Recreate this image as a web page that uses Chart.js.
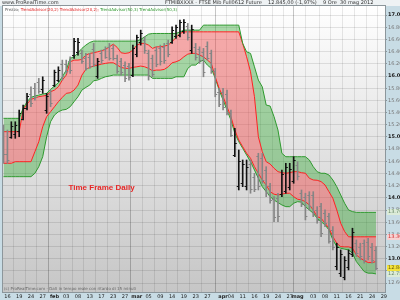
<!DOCTYPE html>
<html>
<head>
<meta charset="utf-8">
<script src="https://cdn.jsdelivr.net/npm/chart.js@4.4.1/dist/chart.umd.min.js"></script>
<style>
  html, body { margin: 0; padding: 0; background: #c8dce5; }
  canvas { display: block; }
</style>
</head>
<body>
<canvas id="myChart" width="400" height="300"></canvas>
<script>
// FTSE MIB future, daily bars 16 gen - 30 mag 2012, with the two TrendAdvisor bands

var highs = [15196,15114,15250,15250,15442,15524,15716,15824,15880,15962,
  15988,15716,15770,16098,16152,16262,16262,16316,16618,16618,
  16426,16372,16372,16536,16290,16426,16480,16536,16508,16344,
  16290,16234,16208,16508,16672,16754,16644,16426,16344,16480,
  16508,16536,16590,16808,16836,16918,16929,16864,16836,16536,
  16480,16454,16562,16426,16126,15798,15798,15770,15442,15142,
  14786,14622,14622,14622,14404,14732,14732,14512,14240,14020,
  14076,14458,14568,14568,14676,14594,14130,14076,14102,14102,
  13856,13912,13802,13748,13528,13256,13146,13036,13146,13502,
  13310,13256,13310,13338,13256,13200];

var lows = [14568,14568,14978,14978,15004,15278,15442,15496,15606,15716,
  15716,15388,15496,15824,15906,15934,16044,16044,16290,16344,
  16208,16098,16126,16152,15962,16208,16290,16262,16262,16044,
  16016,15906,15934,15988,16316,16508,16372,15934,15988,16152,
  16180,16208,16316,16536,16618,16644,16700,16590,16372,16262,
  16208,15988,16262,16044,15660,15496,15442,15360,15004,14676,
  14130,14184,14130,14076,14102,14130,14240,14020,13912,13610,
  13610,14020,14076,14130,14240,14294,13856,13638,13802,13692,
  13584,13364,13528,13256,13146,12818,12708,12654,12818,13036,
  13036,12982,12928,12982,12928,12820];

var opens = [15100,14720,15000,15050,15100,15300,15480,15700,15800,15900,
  15780,15450,15700,15860,15940,16200,16200,16250,16340,16400,
  16380,16300,16320,16450,16000,16380,16440,16480,16460,16300,
  16240,16180,16160,16020,16360,16560,16600,16380,16300,16420,
  16460,16480,16540,16560,16660,16680,16740,16820,16420,16480,
  16440,16400,16500,16380,16080,15740,15740,15700,15400,14700,
  14200,14250,14200,14560,14350,14680,14650,14460,14200,13980,
  14000,14060,14120,14180,14280,14540,14080,14020,14040,14040,
  13800,13860,13760,13700,13480,12880,12760,12700,12860,13080,
  13260,13200,13260,13280,13200,13150];

var closes = [14720,14620,15180,15200,15400,15480,15680,15560,15660,15760,
  15940,15680,15560,16060,16100,16000,16080,16100,16580,16560,
  16240,16140,16160,16200,16250,16260,16320,16300,16300,16080,
  16060,15960,15980,16460,16640,16700,16420,16000,16040,16200,
  16240,16260,16360,16760,16800,16880,16880,16640,16780,16320,
  16260,16060,16300,16100,15700,15540,15500,15400,15040,14900,
  14600,14560,14500,14150,14150,14200,14300,14080,13960,13680,
  13700,14400,14500,14480,14620,14360,13900,13700,13860,13760,
  13640,13420,13580,13300,13200,13200,13080,12980,13100,13440,
  13100,13040,12980,13040,12980,12848];

// bands
var greenUpper = [15306,15306,15306,15306,15306,15470,15579,15650,15672,15688,
  15704,15716,15781,15836,15890,15988,16098,16290,16316,16382,
  16454,16508,16552,16574,16574,16574,16574,16574,16574,16574,
  16574,16574,16574,16574,16574,16601,16644,16688,16699,16699,
  16699,16699,16699,16699,16699,16726,16754,16754,16754,16754,
  16754,16836,16836,16836,16836,16836,16836,16836,16836,16836,
  16836,16536,16398,16372,16152,15934,15824,15524,15508,15333,
  15114,14732,14676,14676,14676,14676,14676,14676,14622,14512,
  14430,14404,14404,14376,14294,14184,14048,13912,13802,13775,
  13762,13762,13762,13762,13762,13762];

var redUpper = [15087,15087,15087,15087,15087,15442,15540,15617,15639,15661,
  15672,15683,15742,15770,15824,15934,16016,16234,16262,16262,
  16273,16344,16372,16382,16398,16415,16437,16480,16524,16470,
  16382,16372,16382,16426,16508,16536,16536,16508,16454,16480,
  16480,16492,16508,16562,16634,16699,16726,16726,16726,16726,
  16726,16726,16726,16726,16726,16726,16726,16726,16726,16726,
  16726,16536,16316,16070,15661,15004,14758,14594,14556,14486,
  14430,14414,14404,14414,14430,14430,14414,14404,14322,14294,
  14289,14267,14212,14102,13994,13802,13584,13447,13361,13361,
  13361,13361,13361,13361,13361,13361];

var redLower = [14568,14568,14568,14594,14594,14594,14594,14594,14758,14922,
  15168,15333,15414,15496,15579,15650,15716,15726,15770,15852,
  16016,16109,16142,16164,16180,16196,16208,16218,16218,16180,
  16142,16126,16126,16142,16152,16164,16152,16126,16087,16098,
  16098,16109,16152,16218,16234,16262,16316,16360,16372,16372,
  16344,16316,16262,16208,15988,15798,15661,15496,15333,15114,
  14950,14840,14732,14650,14512,14404,14294,14212,14102,14060,
  14048,14060,14076,14076,14020,13978,13966,13938,13884,13802,
  13692,13666,13584,13502,13364,13256,13200,13196,13196,13174,
  13064,13010,12970,12938,12938,12954];

var greenLower = [14348,14348,14348,14348,14348,14348,14348,14348,14404,14512,
  14676,15004,15250,15360,15414,15442,15453,15496,15579,15661,
  15770,15814,15852,15923,15934,15962,15988,16000,16016,16016,
  16016,16016,16016,16016,16016,16016,16016,16016,15962,15962,
  15962,15962,15962,15962,15988,15988,15988,16126,16180,16180,
  16234,16262,16180,16126,15962,15770,15606,15442,15278,15060,
  14922,14814,14704,14594,14458,14322,14184,14102,14020,13966,
  13922,13884,13856,13856,13912,13938,13930,13856,13802,13748,
  13666,13610,13556,13474,13310,13200,13174,13158,13146,13092,
  12954,12872,12790,12764,12764,12752];

// x axis: bar index of each labelled day
var tickIdx = [1,4,7,10,13,16,19,22,25,28,31,34,37,40,43,46,49,52,56,58,61,64,67,70,73,75,79,82,85,88,91,94,97];
var tickLabels = ['16','19','24','27','feb','03','08','13','17','23','27','mar','05','09','14','19','23','27',
  'apr','04','11','16','19','24','27','mag','03','08','11','16','21','24','29'];
var monthNames = ['feb','mar','apr','mag'];

function pts(arr) {
  return arr.map(function (v, i) { return {x: i, y: v}; });
}
function fmt(v) {
  return String(Math.round(v)).replace(/\B(?=(\d{3})+(?!\d))/g, '.');
}
function isUp(i) { return closes[i] >= opens[i]; }

var GREEN_FILL = 'rgba(45,165,45,0.4)';
var RED_FILL = 'rgba(240,70,70,0.45)';

// background: blue frame, gradient plot area
var bgPlugin = {
  id: 'bgPlugin',
  beforeDraw: function (chart) {
    var c = chart.ctx, a = chart.chartArea;
    c.save();
    c.fillStyle = '#c8dce5';
    c.fillRect(0, 0, chart.width, chart.height);
    c.fillStyle = '#eef2f4';
    c.fillRect(0, 0, chart.width, a.top);
    var g = c.createLinearGradient(0, a.top, 0, a.bottom);
    g.addColorStop(0, '#ffffff');
    g.addColorStop(1, '#c6c6c6');
    c.fillStyle = g;
    c.fillRect(a.left, a.top, a.right - a.left, a.bottom - a.top);
    c.restore();
  },
  afterDraw: function (chart) {
    var c = chart.ctx, a = chart.chartArea;
    c.save();
    c.strokeStyle = '#8c969b';
    c.lineWidth = 1;
    c.strokeRect(a.left - 0.5, a.top - 0.5, a.right - a.left + 1, a.bottom - a.top + 1);
    c.restore();
  }
};

// open / close ticks of the bars
var ohlcTicks = {
  id: 'ohlcTicks',
  afterDatasetsDraw: function (chart) {
    var xs = chart.scales.x, ys = chart.scales.y, c = chart.ctx, a = chart.chartArea;
    c.save();
    c.beginPath();
    c.rect(a.left, a.top, a.right - a.left, a.bottom - a.top);
    c.clip();
    c.lineWidth = 1;
    for (var i = 0; i < closes.length; i++) {
      var x = xs.getPixelForValue(i);
      var yo = Math.round(ys.getPixelForValue(opens[i])) + 0.5;
      var yc = Math.round(ys.getPixelForValue(closes[i])) + 0.5;
      c.strokeStyle = isUp(i) ? '#111111' : '#858585';
      c.beginPath();
      c.moveTo(x - 2, yo); c.lineTo(x, yo);
      c.moveTo(x, yc); c.lineTo(x + 2, yc);
      c.stroke();
    }
    c.restore();
  }
};

// texts, last value boxes on the price axis
var texts = {
  id: 'texts',
  afterDraw: function (chart) {
    var c = chart.ctx, a = chart.chartArea, ys = chart.scales.y;
    c.save();
    c.textBaseline = 'middle';
    c.font = '5px "DejaVu Sans"';
    c.fillStyle = '#333';
    c.fillText('www.ProRealTime.com', 2, 3);
    c.fillText('FTMIBXXXX - FTSE Mib Full0612 Future    12.845,00 (-1,97%)    9 Ore  30 mag 2012', 165, 3);

    c.font = '4px "DejaVu Sans"';
    var lx = a.left + 2, ly = a.top + 4;
    var parts = [['Prezzo; ', '#555'], ['TrendAdvisor(20,2) ', '#e02020'], ['TrendAdvisor(20,2); ', '#e02020'],
      ['TrendAdvisor(50,3) ', '#2a962a'], ['TrendAdvisor(50,3)', '#2a962a']];
    parts.forEach(function (p) {
      c.fillStyle = p[1];
      c.fillText(p[0], lx, ly);
      lx += c.measureText(p[0]).width;
    });

    c.fillStyle = '#666';
    c.fillText('(c) ProRealTime.com - Dati in tempo reale con ritardo di 15 minuti', a.left + 1, a.bottom - 3);

    c.font = 'bold 8px "Liberation Sans"';
    c.fillStyle = '#e62828';
    c.textAlign = 'center';
    c.fillText('Time Frame Daily', a.left + (a.right - a.left) * 0.258, a.top + (a.bottom - a.top) * 0.636);

    var last = closes.length - 1;
    var boxes = [
      [greenUpper[last], '#dcebd8', '#6a8a6a'],
      [redUpper[last], '#f6d2d2', '#d23030'],
      [greenLower[last], '#dcebd8', '#6a8a6a'],
      [closes[last], '#f3e23a', '#6a5a10']
    ];
    c.font = '5px "DejaVu Sans"';
    c.textAlign = 'left';
    boxes.forEach(function (b) {
      var y = Math.round(ys.getPixelForValue(b[0]));
      c.fillStyle = b[1];
      c.fillRect(a.right + 2, y - 3, 13, 6);
      c.fillStyle = b[2];
      c.fillText(fmt(b[0]), a.right + 3, y);
    });
    c.restore();
  }
};

var ctx = document.getElementById('myChart').getContext('2d');
var chart = new Chart(ctx, {
  type: 'bar',
  data: {
    datasets: [
      {
        type: 'bar',
        label: 'Prezzo',
        data: highs.map(function (h, i) { return {x: i, y: [lows[i], h]}; }),
        backgroundColor: function (c) { return isUp(c.dataIndex) ? '#111111' : '#858585'; },
        barThickness: 1,
        grouped: false,
        order: 0
      },
      {
        type: 'line', label: 'green upper', data: pts(greenUpper),
        borderColor: '#2f9a2f', borderWidth: 1, pointRadius: 0, tension: 0,
        fill: '+1', backgroundColor: GREEN_FILL, order: 1
      },
      {
        type: 'line', label: 'red upper', data: pts(redUpper),
        borderColor: '#ff2222', borderWidth: 1, pointRadius: 0, tension: 0,
        fill: '+1', backgroundColor: RED_FILL, order: 1
      },
      {
        type: 'line', label: 'red lower', data: pts(redLower),
        borderColor: '#ff2222', borderWidth: 1, pointRadius: 0, tension: 0,
        fill: '+1', backgroundColor: GREEN_FILL, order: 1
      },
      {
        type: 'line', label: 'green lower', data: pts(greenLower),
        borderColor: '#2f9a2f', borderWidth: 1, pointRadius: 0, tension: 0,
        fill: false, order: 1
      }
    ]
  },
  options: {
    responsive: false,
    animation: false,
    layout: { padding: { left: 3, top: 6, right: 0, bottom: 0 } },
    plugins: {
      legend: { display: false },
      tooltip: { enabled: false },
      filler: { drawTime: 'beforeDatasetsDraw' }
    },
    scales: {
      x: {
        type: 'linear',
        min: -0.13,
        max: 97.3,
        offset: false,
        afterBuildTicks: function (s) { s.ticks = tickIdx.map(function (v) { return {value: v}; }); },
        afterFit: function (s) { s.height = 8; },
        border: { display: false },
        grid: {
          drawTicks: false,
          color: function (c) {
            var lab = tickLabels[c.index];
            return monthNames.indexOf(lab) >= 0 ? 'rgba(0,0,0,0.22)' : 'rgba(0,0,0,0.09)';
          }
        },
        ticks: {
          autoSkip: false,
          maxRotation: 0,
          padding: 2,
          color: '#222',
          font: function (c) {
            var lab = tickLabels[c.index];
            return { family: 'DejaVu Sans', size: 5, weight: monthNames.indexOf(lab) >= 0 ? 'bold' : 'normal' };
          },
          callback: function (v, i) { return tickLabels[i]; }
        }
      },
      y: {
        position: 'right',
        min: 12455,
        max: 17150,
        afterBuildTicks: function (s) {
          s.ticks = s.ticks.filter(function (t) { return t.value % 200 === 0; });
        },
        afterFit: function (s) { s.width = 15; },
        border: { display: true, color: '#8c969b' },
        grid: { color: 'rgba(0,0,0,0.1)', tickLength: 2, tickColor: '#8c969b' },
        ticks: {
          stepSize: 200,
          padding: 1,
          color: function (c) { return c.tick && c.tick.value % 1000 === 0 ? '#222' : '#777'; },
          font: function (c) {
            return { family: 'DejaVu Sans', size: 5, weight: c.tick && c.tick.value % 1000 === 0 ? 'bold' : 'normal' };
          },
          callback: function (v) { return fmt(v); }
        }
      }
    }
  },
  plugins: [bgPlugin, ohlcTicks, texts]
});
</script>
</body>
</html>
